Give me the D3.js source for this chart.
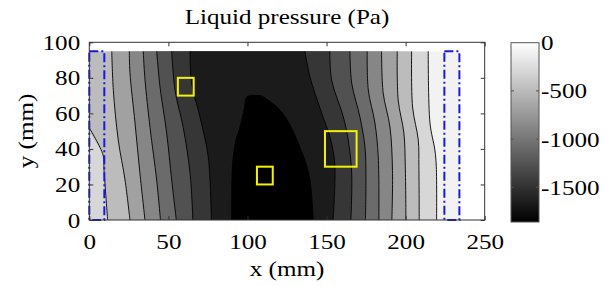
<!DOCTYPE html>
<html>
<head>
<meta charset="utf-8">
<script src="https://cdn.jsdelivr.net/npm/d3@7"></script>
<style>
  body { margin: 0; background: #fff; }
  text { font-family: "Liberation Serif", "Times New Roman", serif; fill: #000; }
</style>
</head>
<body>
<div id="chart"></div>
<script>
// contour levels (Pa), lowest first, and colour bar range
const levels = [-1674, -1488, -1302, -1116, -930, -744, -558, -372, -186];
const pMin = -1860, pMax = 0;
const colorTicks = [0, -500, -1000, -1500];
const xTicks = [0, 50, 100, 150, 200, 250];
const yTicks = [0, 20, 40, 60, 80, 100];

// extent of the computed field (mm)
const xMax = 234, yMax = 95;

// contour lines [x mm, y mm], bottom to top, one per level
// left = low-x side of the pressure trough, right = high-x side
const leftLines = [
    [[90, 0], [90.2, 22.5], [90.8, 33.8], [92.7, 45], [95.3, 52.3], [97.8, 61.9], [99.7, 69.2], [103.5, 70.3]],
    [[77.2, 0], [75.2, 35.5], [70, 58], [64.7, 77], [63.7, 95]],
    [[65.5, 0], [63.7, 26.4], [59.4, 52], [54.2, 73], [52.1, 95]],
    [[55, 0], [52.1, 22.5], [48.9, 49], [44.7, 75], [42.6, 95]],
    [[45, 0], [42.6, 22.5], [38.4, 52], [35.2, 79], [34.1, 95]],
    [[35.2, 0], [32, 26.4], [28.9, 54.6], [25.7, 83], [25.3, 95]],
    [[25.7, 0], [22.6, 22.5], [18.3, 45], [15.2, 73], [14.2, 95]],
    [[11.6, 0], [9.3, 28], [8.7, 36.6], [0, 51.8]],
    null
];
const rightLines = [
    [[141.6, 0], [139.5, 22.5], [136.3, 33.8], [131.3, 45], [126.9, 53.5], [120.5, 61.9], [113, 67.5], [107.9, 70.3]],
    [[154.2, 0], [155.3, 22.5], [155, 33.8], [152.1, 46.9], [146.9, 60.2], [139.5, 80.6], [136.3, 95]],
    [[165.4, 0], [165.9, 26.4], [163.7, 45], [160.6, 58.1], [153.2, 78.8], [152.1, 95]],
    [[174.6, 0], [174.9, 22.5], [174.3, 41.1], [171.1, 58], [165.9, 77.1], [164.8, 95]],
    [[183.1, 0], [182.7, 35.5], [180.6, 54.6], [176.4, 73.2], [175.7, 95]],
    [[191.3, 0], [191.7, 28], [190.1, 52.3], [185.8, 71.5], [184.8, 95]],
    [[200.2, 0], [199.8, 30], [198.9, 49], [195.3, 67.5], [194.7, 95]],
    [[208.6, 0], [208.4, 30], [208, 45], [204.4, 63.6], [203.8, 95]],
    [[219.6, 0], [219.4, 30], [218.5, 39.4], [215.4, 54.6], [214.3, 95]]
];

// blue dash-dot boxes [x0, x1] (mm), full field height
const boxX0 = [0, 224.5];
const boxX1 = [9.5, 234];

// yellow squares, lower-left corner and side (mm)
const squareX = [56, 106, 149];
const squareY = [70, 20, 30];
const squareSide = [10, 10, 20];

const width = 608, height = 286;
const fontSize = 22, stretch = 1.14;

const svg = d3.select("#chart").append("svg")
    .attr("width", width)
    .attr("height", height);

const x = d3.scaleLinear().domain([0, 250]).range([89.3, 484.7]);
const y = d3.scaleLinear().domain([0, 100]).range([220, 42.3]);

// grey level of a band, taken at the band's middle pressure
const shade = d3.scaleLinear()
    .domain([(pMin + levels[0]) / 2, pMax])
    .range(["#000", "#fff"])
    .clamp(true);

const curve = d3.line()
    .x(d => x(d[0]))
    .y(d => y(d[1]))
    .curve(d3.curveCatmullRom);

svg.append("clipPath").attr("id", "field")
    .append("rect")
    .attr("x", x(0)).attr("y", y(yMax))
    .attr("width", x(xMax) - x(0)).attr("height", y(0) - y(yMax));

const field = svg.append("g").attr("clip-path", "url(#field)");

// band above the highest level
field.append("rect")
    .attr("x", x(0)).attr("y", y(yMax))
    .attr("width", x(xMax) - x(0)).attr("height", y(0) - y(yMax))
    .attr("fill", shade((levels[levels.length - 1] + pMax) / 2));

// region below each level, painted from the highest level down
for (let k = levels.length - 1; k >= 0; k--) {
    let left = leftLines[k];
    if (!left) left = [[0, 0], [0, yMax]];
    else if (left[left.length - 1][0] === 0) left = left.concat([[0, yMax]]);
    const right = rightLines[k];
    const path = curve(left.slice().reverse()) + "L" + curve(right).slice(1) + "Z";
    const lo = k === 0 ? pMin : levels[k - 1];
    field.append("path")
        .attr("d", path)
        .attr("fill", shade((lo + levels[k]) / 2));
}

// contour lines
const lines = leftLines.filter(d => d).concat(rightLines);
field.selectAll(".contour")
    .data(lines)
    .enter().append("path")
    .attr("class", "contour")
    .attr("d", curve)
    .attr("fill", "none")
    .attr("stroke", "#000")
    .attr("stroke-width", 0.9);

// blue dash-dot boxes
svg.selectAll(".box")
    .data(boxX0)
    .enter().append("rect")
    .attr("class", "box")
    .attr("x", d => x(d))
    .attr("y", y(yMax))
    .attr("width", (d, i) => x(boxX1[i]) - x(d))
    .attr("height", y(0) - y(yMax))
    .attr("fill", "none")
    .attr("stroke", "#1a1adc")
    .attr("stroke-width", 2)
    .attr("stroke-dasharray", "9,3,2,3");

// yellow squares
svg.selectAll(".square")
    .data(squareX)
    .enter().append("rect")
    .attr("class", "square")
    .attr("x", d => x(d))
    .attr("y", (d, i) => y(squareY[i] + squareSide[i]))
    .attr("width", (d, i) => x(d + squareSide[i]) - x(d))
    .attr("height", (d, i) => y(squareY[i]) - y(squareY[i] + squareSide[i]))
    .attr("fill", "none")
    .attr("stroke", "#f2f20a")
    .attr("stroke-width", 2);

// axes, matlab style: ticks inside on all four sides
const axisColor = "#333";
function styleAxis(g) {
    g.select(".domain").remove();
    g.selectAll("line").attr("stroke", axisColor);
    g.selectAll("text")
        .attr("font-size", fontSize)
        .attr("font-family", "Liberation Serif, Times New Roman, serif")
        .attr("transform", `scale(${stretch},1)`);
}

svg.append("g")
    .attr("transform", "translate(0," + y(0) + ")")
    .call(d3.axisBottom(x).tickValues(xTicks).tickSizeInner(-4).tickSizeOuter(0).tickPadding(13))
    .call(styleAxis);

svg.append("g")
    .attr("transform", "translate(0," + y(100) + ")")
    .call(d3.axisTop(x).tickValues(xTicks).tickSizeInner(-4).tickSizeOuter(0).tickFormat(""))
    .call(styleAxis);

svg.append("g")
    .attr("transform", "translate(" + x(0) + ",0)")
    .call(d3.axisLeft(y).tickValues(yTicks).tickSizeInner(-4).tickSizeOuter(0).tickPadding(8))
    .call(styleAxis);

svg.append("g")
    .attr("transform", "translate(" + x(250) + ",0)")
    .call(d3.axisRight(y).tickValues(yTicks).tickSizeInner(-4).tickSizeOuter(0).tickFormat(""))
    .call(styleAxis);

svg.append("rect")
    .attr("x", x(0)).attr("y", y(100))
    .attr("width", x(250) - x(0)).attr("height", y(0) - y(100))
    .attr("fill", "none")
    .attr("stroke", axisColor)
    .attr("stroke-width", 1);

// titles
function label(tx, ty, txt, rotate) {
    svg.append("text")
        .attr("transform", `translate(${tx},${ty})` + (rotate ? " rotate(-90)" : "") + ` scale(${stretch},1)`)
        .attr("text-anchor", "middle")
        .attr("font-size", fontSize)
        .text(txt);
}
label(287, 24, "Liquid pressure (Pa)");
label(287, 276, "x (mm)");
label(33, 131, "y (mm)", true);

// colour bar
const cb = d3.scaleLinear().domain([pMin, pMax]).range([222, 42.7]);
const cbX = 511, cbW = 28;
const grad = svg.append("defs").append("linearGradient")
    .attr("id", "cbGrad")
    .attr("x1", 0).attr("y1", 1).attr("x2", 0).attr("y2", 0);
grad.append("stop").attr("offset", 0).attr("stop-color", "#000");
grad.append("stop").attr("offset", 1).attr("stop-color", "#fff");

svg.append("rect")
    .attr("x", cbX).attr("y", cb(pMax))
    .attr("width", cbW).attr("height", cb(pMin) - cb(pMax))
    .attr("fill", "url(#cbGrad)")
    .attr("stroke", "#555")
    .attr("stroke-width", 1);

svg.selectAll(".cbtick")
    .data(colorTicks.filter(d => d !== 0))
    .enter().append("path")
    .attr("class", "cbtick")
    .attr("d", d => `M${cbX},${cb(d)}h3M${cbX + cbW},${cb(d)}h-3`)
    .attr("stroke", "#555");

svg.selectAll(".cblabel")
    .data(colorTicks)
    .enter().append("text")
    .attr("class", "cblabel")
    .attr("transform", d => `translate(${cbX + cbW + 2},${cb(d) + 7.5}) scale(${stretch},1)`)
    .attr("font-size", fontSize)
    .text(d => String(d));
</script>
</body>
</html>
